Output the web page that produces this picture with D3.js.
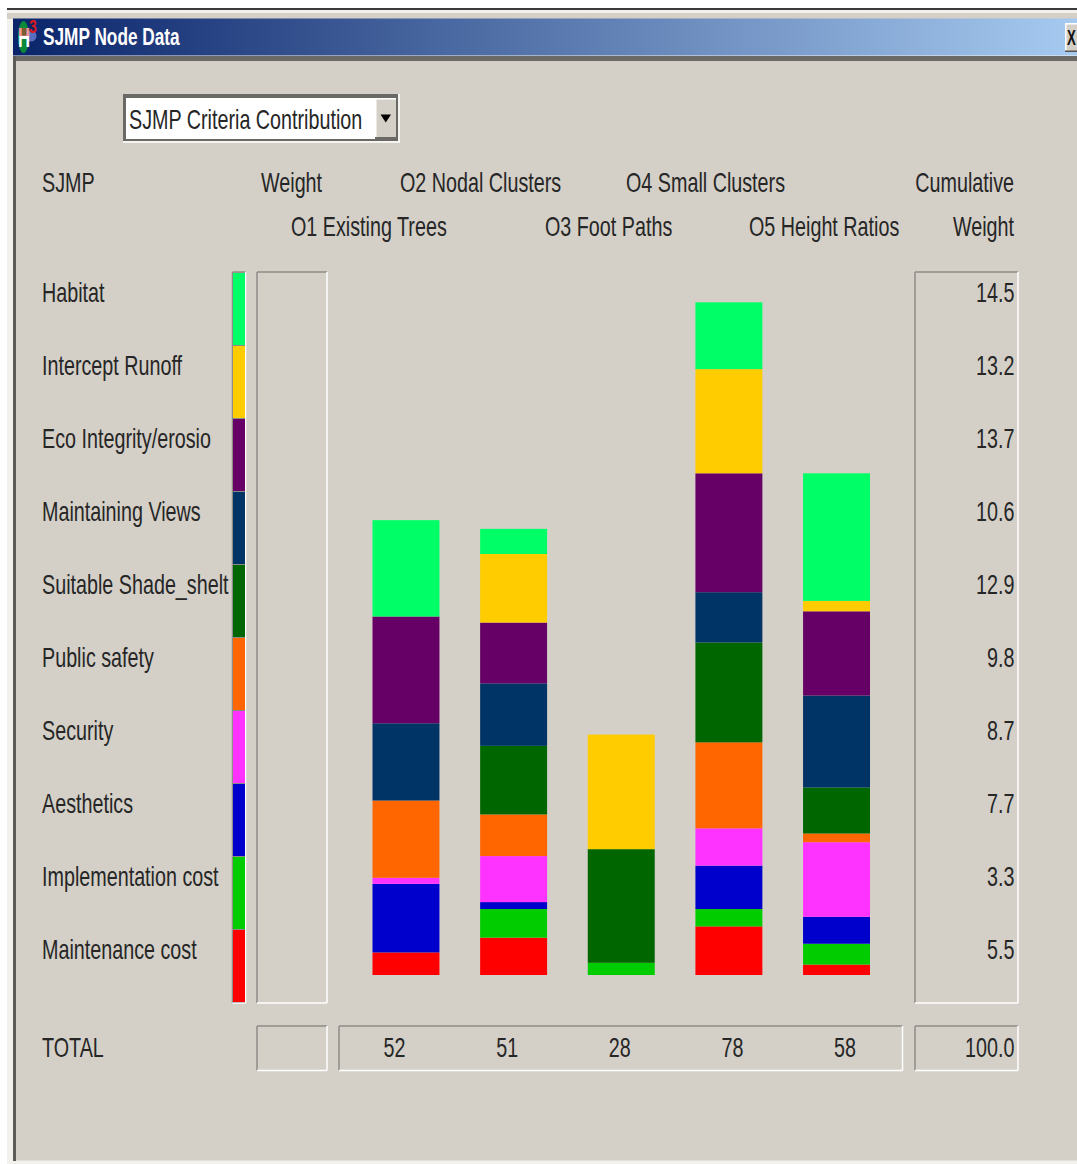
<!DOCTYPE html>
<html>
<head>
<meta charset="utf-8">
<title>SJMP Node Data</title>
<script src="https://cdn.jsdelivr.net/npm/d3@7/dist/d3.min.js"></script>
<style>
  html, body { margin: 0; padding: 0; background: #fff; overflow: hidden; }
  svg { display: block; }
  text { font-family: "Liberation Sans", Arial, sans-serif; }
</style>
</head>
<body>
<div id="chart"></div>
<script>
// Criteria, listed top to bottom as in the left-hand column.
const criteria = ["Habitat", "Intercept Runoff", "Eco Integrity/erosio", "Maintaining Views",
  "Suitable Shade_shelt", "Public safety", "Security", "Aesthetics",
  "Implementation cost", "Maintenance cost"];
const criteriaColors = ["#00ff66", "#ffcc00", "#660066", "#003366", "#006600",
  "#ff6600", "#ff33ff", "#0000cc", "#00cc00", "#ff0000"];
const cumulativeWeights = ["14.5", "13.2", "13.7", "10.6", "12.9", "9.8", "8.7", "7.7", "3.3", "5.5"];

// Options along the horizontal axis.
const options = ["O1", "O2", "O3", "O4", "O5"];
const optionTotals = [52, 51, 28, 78, 58];

// Contribution of each criterion to each option (O1..O5).
const habitat        = [11.1,  2.9,  0.0,  7.7, 14.7];
const interceptRunoff = [0.0,  7.9, 13.2, 12.0,  1.2];
const ecoIntegrity   = [12.3,  7.0,  0.0, 13.7,  9.7];
const maintainingViews = [8.9, 7.2,  0.0,  5.8, 10.6];
const suitableShade  = [0.0,   7.9, 13.1, 11.5,  5.3];
const publicSafety   = [8.9,   4.8,  0.0,  9.9,  1.0];
const security       = [0.7,   5.3,  0.0,  4.3,  8.6];
const aesthetics     = [7.9,   0.8,  0.0,  5.0,  3.1];
const implementation = [0.0,   3.3,  1.4,  2.0,  2.4];
const maintenance    = [2.6,   4.3,  0.0,  5.6,  1.2];
const seriesValues = [habitat, interceptRunoff, ecoIntegrity, maintainingViews, suitableShade,
  publicSafety, security, aesthetics, implementation, maintenance];

const headerRow1 = [["SJMP", 42, "start"], ["Weight", 261, "start"], ["O2 Nodal Clusters", 400, "start"],
  ["O4 Small Clusters", 626, "start"], ["Cumulative", 1014, "end"]];
const headerRow2 = [["O1 Existing Trees", 291, "start"], ["O3 Foot Paths", 545, "start"],
  ["O5 Height Ratios", 749, "start"], ["Weight", 1014, "end"]];

const W = 1077, H = 1164;
const FACE = "#d4d0c8";
const INK = "#262626";
const svg = d3.select("#chart").append("svg").attr("width", W).attr("height", H);

const gradient = svg.append("defs").append("linearGradient").attr("id", "titleFill");
gradient.append("stop").attr("offset", "0%").attr("stop-color", "#0a246a");
gradient.append("stop").attr("offset", "100%").attr("stop-color", "#a6caf0");

function rect(x, y, w, h, fill) {
  return svg.append("rect").attr("x", x).attr("y", y).attr("width", w).attr("height", h).attr("fill", fill);
}

// Condensed, tall lettering of the dialog: Liberation Sans squeezed horizontally.
function label(str, x, y, anchor = "start", size = 28, sx = 0.705, weight = "normal", fill = INK) {
  return svg.append("text")
    .attr("transform", `translate(${x},${y}) scale(${sx},1)`)
    .attr("text-anchor", anchor)
    .attr("font-size", size)
    .attr("font-weight", weight)
    .style("fill", fill)
    .text(str);
}

// Sunken panel: grey top and left edges, white bottom and right edges.
function sunken(x0, y0, x1, y1) {
  const line = (a, b, c, d, col) => svg.append("line")
    .attr("x1", a).attr("y1", b).attr("x2", c).attr("y2", d)
    .attr("stroke", col).attr("stroke-width", 1.5);
  line(x0, y0, x1, y0, "#8f8d88");
  line(x0, y0, x0, y1, "#8f8d88");
  line(x0, y1, x1, y1, "#ffffff");
  line(x1, y0, x1, y1, "#ffffff");
}

// Window frame
rect(7, 8, W - 7, H - 8, "#f2f1ec");
rect(7, 8, W - 7, 2, "#3a3a3a");
rect(7, 13, W - 7, 6, FACE);
rect(13, 18.5, W - 13, 37, "url(#titleFill)");
rect(13, 56, W - 13, 5.5, "#6b6a66");
rect(13, 56, 3, H - 59, "#5c5b58");
rect(16, 61, W - 16, H - 61 - 3.5, FACE);

// Title bar icon
svg.append("ellipse").attr("cx", 23.5).attr("cy", 37).attr("rx", 5.5).attr("ry", 16).attr("fill", "#0a8a3a");
svg.append("circle").attr("cx", 31).attr("cy", 36).attr("r", 5.5).attr("fill", "#5a6ec0");
label("H", 24, 47, "middle", 27, 0.62, "bold", "#ffffff");
rect(19, 28, 10, 8, "#e83030").attr("opacity", 0.5);
label("3", 33, 33, "middle", 18, 0.75, "bold", "#e01818");
label("SJMP Node Data", 43, 45, "start", 23, 0.75, "bold", "#ffffff");

// Close button at the right edge
rect(1065, 23, 12, 29, FACE);
rect(1065, 23, 12, 1.5, "#ffffff");
rect(1065, 23, 1.5, 29, "#ffffff");
rect(1065, 50.5, 12, 1.5, "#55544f");
label("X", 1067, 45, "start", 22, 0.6, "bold", "#111111");

// Drop-down selector
rect(123, 94, 277, 49, "#f4f3ef");
rect(123, 94, 275, 47, "#6a6965");
rect(126, 98, 249, 41, "#ffffff");
rect(375, 98, 21, 41, FACE);
rect(375, 98, 21, 1.5, "#ffffff");
rect(375, 98, 1.5, 41, "#ffffff");
rect(375, 137, 21, 2, "#6b6a66");
svg.append("path").attr("d", "M380.5 114.5 h10.5 l-5.25 8 z").attr("fill", "#000");
label("SJMP Criteria Contribution", 129, 129);

// Column headers
headerRow1.forEach(([t, x, a]) => label(t, x, 191.7, a));
headerRow2.forEach(([t, x, a]) => label(t, x, 235.7, a));

// Scales
const rowScale = d3.scaleBand().domain(criteria).range([272.5, 1002.5]);
const xScale = d3.scaleBand().domain(options).range([372.5, 870]).paddingInner(0.378).paddingOuter(0);
const yScale = d3.scaleLinear().domain([0, 80]).range([975, 975 - 80 * 8.68]);
const totalScale = d3.scalePoint().domain(options).range([394.5, 845]);
const colorScale = d3.scaleOrdinal().domain(criteria).range(criteriaColors);

// Panels
sunken(232.5, 272, 245.5, 1003);
sunken(257, 272, 327, 1003);
sunken(915, 272, 1018, 1003);
sunken(257, 1026, 327, 1070.5);
sunken(339, 1026, 902.5, 1070.5);
sunken(915, 1026, 1018, 1070.5);

// Colour key strip beside the row labels
rect(233, rowScale.range()[0], 12, rowScale.range()[1] - rowScale.range()[0], "#8a8a86");
svg.append("g").selectAll("rect").data(criteria).join("rect")
  .attr("x", 233).attr("width", 12)
  .attr("y", d => rowScale(d) + 0.5)
  .attr("height", rowScale.bandwidth() - 1)
  .attr("fill", d => colorScale(d));

// Row labels and cumulative weights
const baselineOffset = -6.8;
criteria.forEach((c, i) => {
  const y = rowScale(c) + rowScale.bandwidth() / 2 + baselineOffset;
  label(c, 42, y);
  label(cumulativeWeights[i], 1014.5, y, "end");
});

// Stacked columns, built bottom-up from Maintenance cost to Habitat
const rows = options.map((o, i) => {
  const row = { option: o };
  criteria.forEach((c, k) => { row[c] = seriesValues[k][i]; });
  return row;
});
const stack = d3.stack().keys(criteria.slice().reverse());
svg.append("g").selectAll("g").data(stack(rows)).join("g")
  .attr("fill", s => colorScale(s.key))
  .selectAll("rect").data(s => s).join("rect")
  .attr("x", d => xScale(d.data.option))
  .attr("width", xScale.bandwidth())
  .attr("y", d => yScale(d[1]))
  .attr("height", d => yScale(d[0]) - yScale(d[1]));

// Totals row
label("TOTAL", 42, 1056.5);
options.forEach((o, i) => label(String(optionTotals[i]), totalScale(o), 1056.5, "middle"));
label("100.0", 1014.5, 1056.5, "end");
</script>
</body>
</html>
